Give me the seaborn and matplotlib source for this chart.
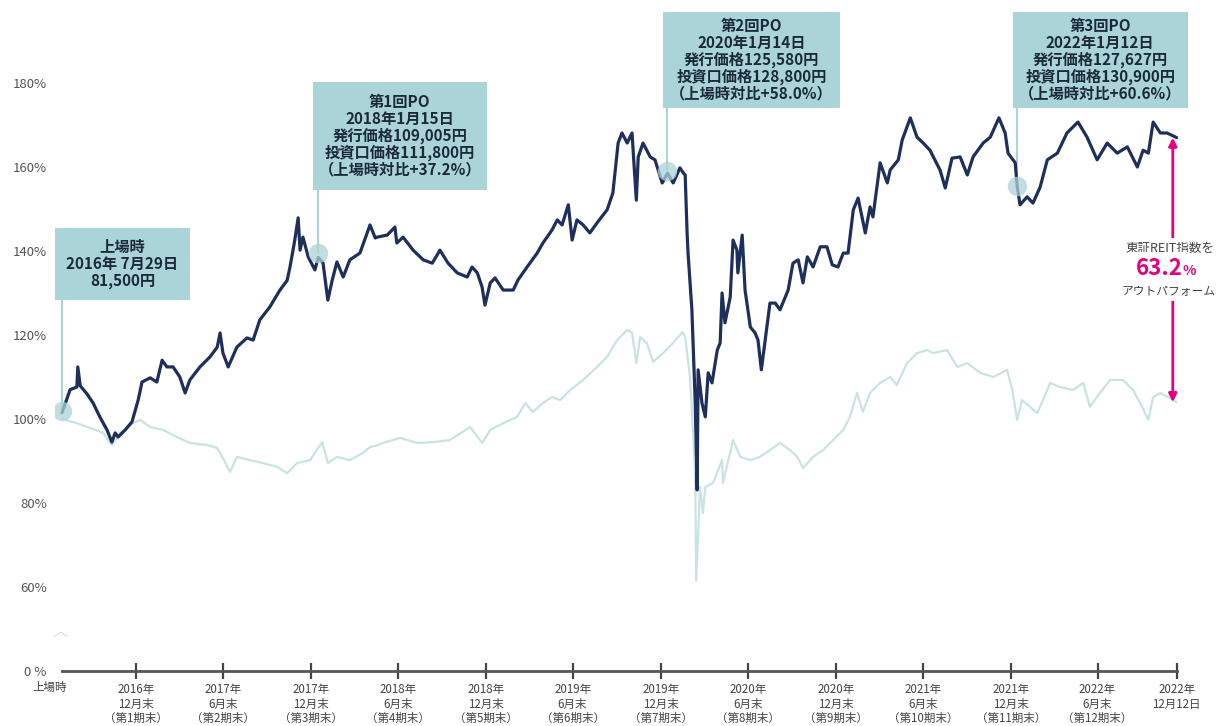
import numpy as np
import pandas as pd
import matplotlib
matplotlib.use("Agg")
import matplotlib.pyplot as plt
import matplotlib.dates as mdates
from matplotlib.patches import Rectangle
import seaborn as sns

# ---------------- data ----------------
listing_date = "2016-07-29"
end_date = "2022-12-12"

# investment unit price relative to IPO price (%), x = days since listing
unit_days = [0, 17, 31, 33, 38, 52, 65, 79, 94, 104,
             111, 117, 132, 146, 159, 167, 184, 198, 209, 219,
             232, 246, 257, 267, 288, 309, 324, 330, 336, 347,
             365, 386, 399, 413, 434, 455, 470, 476, 486, 493,
             497, 503, 514, 528, 535, 545, 555, 564, 574, 587,
             601, 622, 637, 643, 654, 658, 679, 695, 699, 712,
             733, 754, 773, 789, 806, 825, 846, 856, 867, 877,
             883, 894, 904, 921, 942, 952, 971, 992, 1004, 1023,
             1034, 1044, 1057, 1065, 1075, 1088, 1102, 1117, 1138, 1150,
             1161, 1169, 1180, 1190, 1199, 1203, 1213, 1228, 1238, 1253,
             1264, 1276, 1290, 1297, 1301, 1305, 1307, 1315, 1322, 1326,
             1328, 1336, 1343, 1349, 1357, 1368, 1374, 1378, 1384, 1395,
             1401, 1409, 1411, 1420, 1426, 1437, 1447, 1453, 1460, 1468,
             1478, 1489, 1499, 1516, 1526, 1537, 1547, 1556, 1568, 1583,
             1597, 1608, 1620, 1631, 1641, 1652, 1662, 1677, 1687, 1693,
             1708, 1723, 1729, 1746, 1754, 1771, 1785, 1798, 1812, 1833,
             1844, 1858, 1875, 1890, 1902, 1923, 1938, 1956, 1969, 1975,
             1990, 1994, 2000, 2015, 2027, 2042, 2057, 2078, 2098, 2121,
             2140, 2161, 2182, 2203, 2224, 2245, 2257, 2268, 2278, 2293,
             2307, 2327]
unit_pct = [101.5, 107, 107.6, 112.4, 107.9, 106, 103.8, 100.5, 97.4, 94.5,
            96.7, 95.7, 97.4, 99.3, 104.5, 108.8, 109.8, 108.8, 114, 112.4,
            112.4, 110, 106.2, 109.3, 112.4, 114.8, 117.1, 120.5, 115.7, 112.4,
            117.1, 119.3, 118.8, 123.6, 126.7, 130.7, 133, 136.2, 142.6, 147.9,
            140.2, 143.3, 138.6, 135.5, 138.5, 137.1, 128.3, 133, 137.4, 133.8,
            137.9, 139.5, 144.3, 146.2, 143.1, 143.3, 143.8, 145.7, 141.9, 143.3,
            140.2, 137.9, 137.1, 140.2, 137.1, 134.8, 133.8, 136.2, 134.8, 131.4,
            127.1, 132.4, 133.6, 130.7, 130.7, 133.1, 136.2, 139.5, 141.9, 145,
            147.4, 146.2, 151, 142.6, 147.4, 146.2, 144.3, 146.7, 149.8, 153.8,
            165.7, 168.1, 165.7, 168.1, 152.1, 162.4, 165.7, 162.4, 161.7, 156.2,
            158.5, 156.2, 159.8, 158.6, 158.1, 144.3, 139.5, 126, 103.8, 83.1,
            111.7, 103.8, 100.5, 111, 108.6, 116.4, 118.1, 130, 122.9, 129,
            142.6, 140.2, 134.8, 143.8, 130.7, 121.9, 120.5, 118.8, 111.7, 118.8,
            127.6, 127.6, 126, 130.7, 137.1, 137.9, 132.4, 138.6, 136.2, 141,
            141, 136.7, 136.2, 139.5, 139.5, 149.8, 152.6, 144.3, 150.5, 148.1,
            161, 156.2, 159.3, 161.7, 166.4, 171.7, 167.1, 165.7, 164, 159.3,
            155, 162.1, 162.4, 158.1, 162.4, 165.7, 167.1, 171.7, 168.1, 163.3,
            161, 155.5, 151, 152.9, 151.4, 155.2, 161.7, 163.3, 168.1, 170.7,
            167.1, 161.7, 165.7, 163.3, 164.8, 160, 164, 163.3, 170.7, 168.1,
            168.1, 167]

# TSE REIT index relative to listing date (%)
reit_days = [0, 31, 58, 86, 104, 121, 148, 163, 184, 211,
             240, 267, 303, 324, 336, 351, 365, 393, 420, 449,
             470, 491, 518, 543, 555, 574, 601, 628, 643, 660,
             670, 706, 741, 775, 810, 852, 877, 894, 921, 950,
             967, 983, 1004, 1023, 1040, 1061, 1088, 1117, 1138, 1159,
             1180, 1190, 1199, 1207, 1221, 1234, 1255, 1276, 1295, 1301,
             1311, 1315, 1322, 1324, 1332, 1338, 1343, 1359, 1378, 1380,
             1401, 1416, 1437, 1457, 1478, 1499, 1520, 1535, 1547, 1568,
             1589, 1610, 1631, 1645, 1660, 1672, 1687, 1708, 1729, 1743,
             1764, 1785, 1806, 1819, 1848, 1869, 1890, 1917, 1944, 1973,
             1984, 1994, 2004, 2021, 2036, 2048, 2063, 2084, 2111, 2132,
             2146, 2167, 2188, 2215, 2236, 2255, 2268, 2278, 2293, 2313,
             2327]
reit_pct = [100, 99, 97.9, 96.7, 93.8, 96.7, 99, 99.8, 98.1, 97.4,
            95.7, 94.3, 93.8, 93.1, 90.7, 87.4, 91, 90.2, 89.5, 88.6,
            87.1, 89.5, 90.2, 94.5, 89.5, 91, 90.2, 91.9, 93.3, 93.8,
            94.3, 95.5, 94.3, 94.5, 95, 98.1, 94.3, 97.4, 99, 100.5,
            103.8, 101.7, 103.8, 105.2, 104.5, 106.9, 109.3, 112.4, 114.8, 118.8,
            121.2, 120.5, 113.3, 119.5, 118.1, 113.6, 115.7, 118.1, 120.7, 119.5,
            110, 102.1, 86.2, 61.5, 83.8, 77.6, 83.8, 84.8, 90.2, 84.8,
            95, 91, 90.2, 91, 92.6, 94.3, 92.6, 91, 88.3, 91,
            92.6, 95, 97.4, 100.5, 106.2, 101.7, 106.2, 108.6, 110, 108.1,
            113.3, 115.7, 116.4, 115.7, 116.4, 112.4, 113.3, 111, 110, 111.7,
            106.9, 99.8, 104.5, 102.9, 101.4, 104.5, 108.6, 107.6, 106.9, 108.6,
            102.9, 106.2, 109.3, 109.3, 106.9, 102.9, 99.8, 105.2, 106.2, 105,
            104]

tick_dates = ["2016-12-31", "2017-06-30", "2017-12-31", "2018-06-30", "2018-12-31",
              "2019-06-30", "2019-12-31", "2020-06-30", "2020-12-31", "2021-06-30",
              "2021-12-31", "2022-06-30", "2022-12-12"]
tick_labels = ["2016年\n12月末\n（第1期末）", "2017年\n6月末\n（第2期末）",
               "2017年\n12月末\n（第3期末）", "2018年\n6月末\n（第4期末）",
               "2018年\n12月末\n（第5期末）", "2019年\n6月末\n（第6期末）",
               "2019年\n12月末\n（第7期末）", "2020年\n6月末\n（第8期末）",
               "2020年\n12月末\n（第9期末）", "2021年\n6月末\n（第10期末）",
               "2021年\n12月末\n（第11期末）", "2022年\n6月末\n（第12期末）",
               "2022年\n12月12日"]
start_label = "上場時"

ytick_values = [40, 60, 80, 100, 120, 140, 160, 180]
ytick_labels = ["0 %", "60%", "80%", "100%", "120%", "140%", "160%", "180%"]

event_dates = ["2016-07-29", "2018-01-15", "2020-01-14", "2022-01-12"]
event_marker_pct = [102, 139.5, 159, 155.5]
event_texts = ["上場時\n2016年 7月29日\n81,500円",
               "第1回PO\n2018年1月15日\n発行価格109,005円\n投資口価格111,800円\n（上場時対比+37.2%）",
               "第2回PO\n2020年1月14日\n発行価格125,580円\n投資口価格128,800円\n（上場時対比+58.0%）",
               "第3回PO\n2022年1月12日\n発行価格127,627円\n投資口価格130,900円\n（上場時対比+60.6%）"]
outperform_value = "63.2"

# ---------------- style ----------------
NAVY = "#1f2f5c"
REIT = "#c9e3e3"
BOX = "#abd4d8"
MAG = "#e4007f"
GREY = "#555555"

sns.set_theme(style="white")
plt.rcParams["font.family"] = ["Noto Sans CJK JP", "DejaVu Sans"]

W, H = 1230, 726
fig = plt.figure(figsize=(W / 100, H / 100), dpi=100)
ax_left_px, ax_right_px = 55, 1225
ax = fig.add_axes([ax_left_px / W, 0, (ax_right_px - ax_left_px) / W, 1])

start = pd.Timestamp(listing_date)
end = pd.Timestamp(end_date)
unit_x = start + pd.to_timedelta(unit_days, unit="D")
reit_x = start + pd.to_timedelta(reit_days, unit="D")

sns.lineplot(x=reit_x, y=reit_pct, ax=ax, color=REIT, lw=1.6, legend=False, errorbar=None, zorder=2)
sns.lineplot(x=unit_x, y=unit_pct, ax=ax, color=NAVY, lw=2.3, legend=False, errorbar=None, zorder=3)

# scales: 0.479 px per day, 4.2 px per percent
px_per_day = 0.479
x0 = mdates.date2num(start)
ax.set_xlim(x0 - (62 - ax_left_px) / px_per_day, x0 + (ax_right_px - 62) / px_per_day)
ax.set_ylim(100 - (H - 419) / 4.2, 100 + 419 / 4.2)

for s in ["top", "right", "left"]:
    ax.spines[s].set_visible(False)
ax.spines["bottom"].set_position(("data", 40))
ax.spines["bottom"].set_bounds(x0, mdates.date2num(end))
ax.spines["bottom"].set_color("#555555")
ax.spines["bottom"].set_linewidth(2.0)

ax.set_xticks(pd.to_datetime(tick_dates), tick_labels)
ax.tick_params(axis="x", direction="inout", length=12, width=1.6, color="#444444",
               labelsize=8.3, labelcolor="#444444", pad=3, bottom=True)
for lbl in ax.get_xticklabels():
    lbl.set_linespacing(1.1)
ax.set_yticks(ytick_values, ytick_labels)
ax.tick_params(axis="y", length=0, pad=6, labelsize=9.5, labelcolor=GREY, left=False)
ax.set_xlabel("")
ax.set_ylabel("")
ax.grid(False)

ax.text(start - pd.Timedelta(days=25), 36.0, start_label, ha="center", va="center",
        fontsize=8.3, color="#444444")
# axis break mark
ax.text(start - pd.Timedelta(days=4), 49.5, "︿", ha="center", va="center",
        fontsize=11, color="#dddddd", family=["Noto Sans CJK JP", "DejaVu Sans"])

# ---------------- event boxes ----------------
# (left days offset from event, right days, bottom pct, top pct)
box_geom = [(-15, 267, 128.3, 145.5),
            (-11, 352, 154.5, 180.2),
            (-9, 360, 174.0, 196.9),
            (-8, 357, 174.0, 196.9)]
for ev, mk, txt, (l, r, b, t) in zip(event_dates, event_marker_pct, event_texts, box_geom):
    ed = pd.Timestamp(ev)
    en = mdates.date2num(ed)
    ax.add_patch(Rectangle((en + l, b), r - l, t - b, facecolor=BOX, edgecolor="none", zorder=4))
    ax.plot([ed, ed], [mk, b], color=BOX, lw=1.5, zorder=1)
    ax.plot([ed], [mk], marker="o", ms=14, color=BOX, alpha=0.75, mec="none", zorder=5)
    ax.text(en + (l + r) / 2, (b + t) / 2, txt, ha="center", va="center", fontsize=11,
            fontweight="bold", color="#1a2a3a", linespacing=1.05, zorder=6)

# ---------------- outperformance arrow ----------------
en_end = mdates.date2num(end) - 8
ax.annotate("", xy=(en_end, unit_pct[-1]), xytext=(en_end, reit_pct[-1]),
            arrowprops=dict(arrowstyle="<|-|>", color=MAG, lw=2, mutation_scale=12,
                            shrinkA=0, shrinkB=0), zorder=6)
bb = dict(boxstyle="square,pad=0.25", fc="white", ec="none")
ax.text(en_end - 5, 140.7, "東証REIT指数を", ha="center", va="center", fontsize=9,
        color="#444444", bbox=bb, zorder=7)
ax.text(en_end + 20, 135.8, outperform_value, ha="right", va="center", fontsize=16,
        fontweight="bold", color=MAG, bbox=bb, zorder=7)
ax.text(en_end + 21, 135.3, "%", ha="left", va="center", fontsize=10,
        fontweight="bold", color=MAG, zorder=7)
ax.text(en_end - 8, 130.3, "アウトパフォーム", ha="center", va="center", fontsize=8.5,
        color="#444444", bbox=bb, zorder=7)

fig.savefig("out.png", dpi=100)
